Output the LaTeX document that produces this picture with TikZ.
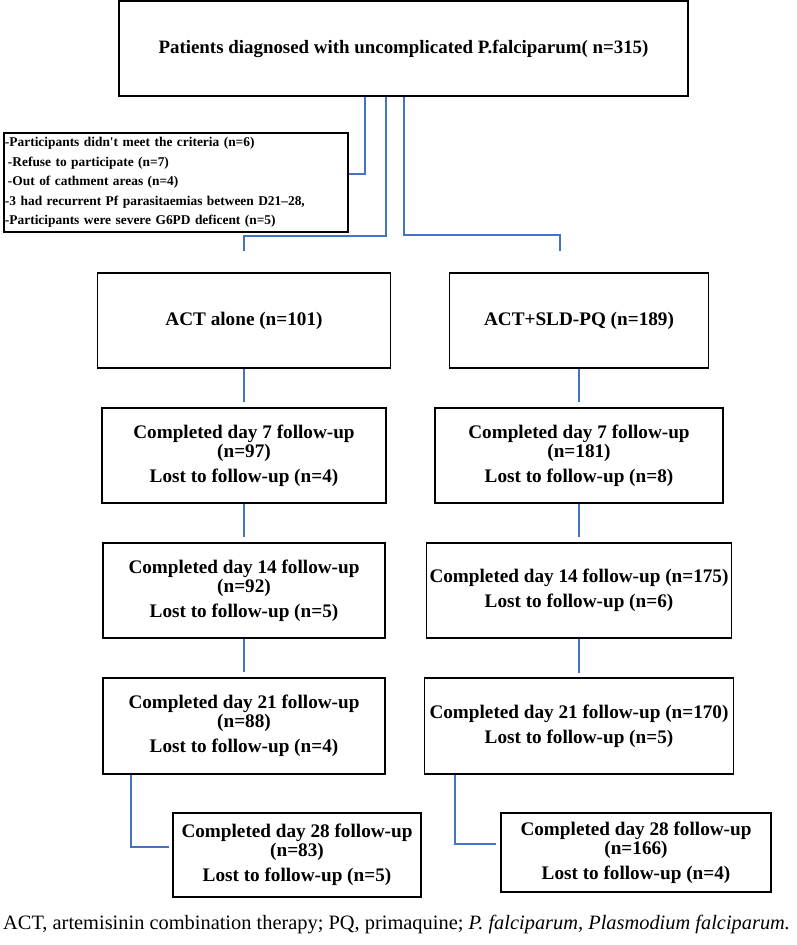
\documentclass[tikz,border=0pt]{standalone}
\usepackage{fontspec}
\setmainfont{Liberation Serif}
\definecolor{linkblue}{RGB}{68,114,196}
\tikzset{
  box/.style={draw=black, line width=1.8pt, align=center, inner sep=0pt,
    font=\bfseries\fontsize{19.2}{19}\selectfont},
  link/.style={draw=linkblue, line width=2pt},
}
\begin{document}
\begin{tikzpicture}[x=1pt,y=1pt]
      \useasboundingbox (0,0) rectangle (796,-945);
      \draw
        (403.5,-48.5) node[box, minimum width=569pt, minimum height=95pt,
          font=\bfseries\fontsize{18.9}{19}\selectfont] (top){Patients diagnosed with uncomplicated P.falciparum( n=315)}
        (176,-182.5) node[box, text width=342pt, inner xsep=1pt, minimum height=99pt, align=left,
          font=\bfseries\fontsize{13.4}{19.5}\selectfont] (excl){-Participants didn\textquotesingle t meet the criteria (n=6)\\
          \hspace*{3pt}-Refuse to participate (n=7)\\
          \hspace*{3pt}-Out of cathment areas (n=4)\\
          -3 had recurrent Pf parasitaemias between D21--28,\\
          -Participants were severe G6PD deficent (n=5)}
        (244,-320.5) node[box, minimum width=293pt, minimum height=95pt] (act){ACT alone (n=101)}
        (579,-320.5) node[box, minimum width=259pt, minimum height=95pt] (pq){ACT+SLD-PQ (n=189)}
        (244,-455.5) node[box, minimum width=284pt, minimum height=95pt] (d7a){Completed day 7 follow-up\\(n=97)\\[6pt]Lost to follow-up (n=4)}
        (579,-455.5) node[box, minimum width=288pt, minimum height=95pt] (d7b){Completed day 7 follow-up\\(n=181)\\[6pt]Lost to follow-up (n=8)}
        (244,-590.5) node[box, minimum width=282pt, minimum height=95pt] (d14a){Completed day 14 follow-up\\(n=92)\\[6pt]Lost to follow-up (n=5)}
        (579,-590.5) node[box, minimum width=305pt, minimum height=95pt] (d14b){Completed day 14 follow-up (n=175)\\[6pt]Lost to follow-up (n=6)}
        (244,-726) node[box, minimum width=282pt, minimum height=96pt] (d21a){Completed day 21 follow-up\\(n=88)\\[6pt]Lost to follow-up (n=4)}
        (579,-726) node[box, minimum width=309pt, minimum height=96pt] (d21b){Completed day 21 follow-up (n=170)\\[6pt]Lost to follow-up (n=5)}
        (297,-855) node[box, minimum width=248pt, minimum height=84pt] (d28a){Completed day 28 follow-up\\(n=83)\\[6pt]Lost to follow-up (n=5)}
        (636,-852.5) node[box, minimum width=270pt, minimum height=79pt] (d28b){Completed day 28 follow-up\\(n=166)\\[6pt]Lost to follow-up (n=4)}
        (3,-925) node[anchor=west, inner sep=0pt, font=\fontsize{20.4}{20}\selectfont] (caption){ACT, artemisinin combination therapy; PQ, primaquine; \textit{P. falciparum, Plasmodium falciparum.}};
      \begin{scope}[link]
        \draw ([xshift=-38.5pt]top.south) |- ([yshift=8.5pt]excl.east);
        \draw ([xshift=-17.5pt]top.south) -- ++(0,-139) -| ([yshift=21pt]act.north);
        \draw (top.south) -- ++(0,-138) -| ([xshift=-19pt,yshift=21pt]pq.north);
        \draw (act.south) -- ([yshift=5pt]d7a.north);
        \draw (d7a.south) -- ([yshift=5pt]d14a.north);
        \draw (d14a.south) -- ([yshift=5pt]d21a.north);
        \draw (pq.south) -- ([yshift=5pt]d7b.north);
        \draw (d7b.south) -- ([yshift=5pt]d14b.north);
        \draw (d14b.south) -- ([yshift=4pt]d21b.north);
        \draw ([xshift=29pt]d21a.south west) |- ([shift={(-3pt,8pt)}]d28a.west);
        \draw ([xshift=31pt]d21b.south west) |- ([shift={(-4pt,8.5pt)}]d28b.west);
      \end{scope}
    \end{tikzpicture}
\end{document}
